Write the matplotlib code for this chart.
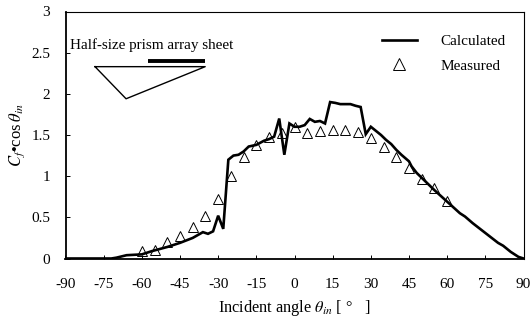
import matplotlib
matplotlib.use("Agg")
import matplotlib.pyplot as plt
from matplotlib.lines import Line2D

plt.rcParams['font.family'] = ['Liberation Serif', 'DejaVu Serif']
plt.rcParams['mathtext.fontset'] = 'stix'
plt.rcParams['axes.unicode_minus'] = False

calc_x = [-90, -72, -70, -66, -60, -56, -50, -46, -45, -40, -36, -34, -32, -30, -28, -26, -24, -22,
          -20, -18, -15, -12, -10, -8, -6, -4, -2, 0, 2, 4, 6, 8, 10, 12, 14, 16, 18, 20, 22, 24, 26,
          28, 30, 32, 34, 36, 38, 40, 42, 45, 46, 48, 50, 55, 60, 65, 67, 70, 75, 80, 82, 85, 88, 90]
calc_y = [0, 0, 0.01, 0.04, 0.05, 0.09, 0.14, 0.18, 0.19, 0.25, 0.32, 0.30, 0.33, 0.52, 0.36, 1.20, 1.25, 1.26,
          1.30, 1.36, 1.38, 1.43, 1.45, 1.48, 1.70, 1.26, 1.64, 1.60, 1.60, 1.62, 1.695, 1.66, 1.67, 1.64, 1.90, 1.89, 1.875, 1.875, 1.875, 1.855, 1.84,
          1.51, 1.60, 1.55, 1.50, 1.44, 1.39, 1.32, 1.26, 1.18, 1.12, 1.04, 0.98, 0.83, 0.69, 0.55, 0.51, 0.43, 0.31, 0.19, 0.155, 0.08, 0.02, 0]
meas_x = [-60, -55, -50, -45, -40, -35, -30, -25, -20, -15, -10, -5, 0, 5, 10, 15, 20, 25, 30, 35, 40, 45, 50, 55, 60]
meas_y = [0.095, 0.10, 0.205, 0.27, 0.38, 0.52, 0.72, 1.00, 1.23, 1.38, 1.47, 1.53, 1.60, 1.53, 1.55, 1.56, 1.56, 1.54, 1.46, 1.36, 1.23, 1.10, 0.97, 0.855, 0.70]
x_ticks = list(range(-90, 91, 15))
y_ticks = [0, 0.5, 1, 1.5, 2, 2.5, 3]
y_labels = ['0', '0.5', '1', '1.5', '2', '2.5', '3']
prism_x = [-78.4, -66.2, -35.1, -78.4]
prism_y = [2.33, 1.94, 2.33, 2.33]
sheet_x = [-57.5, -35.1]
sheet_y = [2.40, 2.40]

W, H = 532, 323
fig = plt.figure(figsize=(W/100, H/100), dpi=100)
L, R, T, B = 65.5, 523.5, 11.5, 258.5
ax = fig.add_axes([L/W, 1-B/H, (R-L)/W, (B-T)/H])

ax.plot(calc_x, calc_y, color='black', lw=1.9, solid_joinstyle='miter', zorder=3)
ax.plot(meas_x, meas_y, ls='none', marker='^', ms=6.8, mfc='none', mec='black', mew=0.7, zorder=4)
ax.plot(prism_x, prism_y, color='black', lw=1.0)
ax.plot(sheet_x, sheet_y, color='black', lw=2.8, solid_capstyle='butt')
ax.text(-88.2, 2.59, 'Half-size prism array sheet', fontsize=10.9, va='center', ha='left')

ax.set_xlim(-90, 90)
ax.set_ylim(0, 3)
ax.set_xticks(x_ticks)
ax.set_yticks(y_ticks, y_labels)
ax.tick_params(direction='in', length=3, width=0.7, labelsize=11)
ax.tick_params(axis='x', pad=14)
ax.tick_params(axis='y', pad=11)
for s in ['left', 'bottom']:
    ax.spines[s].set_linewidth(1.3)
for s in ['top', 'right']:
    ax.spines[s].set_linewidth(0.8)
ax.set_xlabel('Incident angle $\\theta_{in}$ [ \u00b0   ]', fontsize=11.7, labelpad=5)
ax.set_ylabel('$C_f$\u2022cos$\\,\\theta_{in}$', fontsize=12, labelpad=3)

handles = [Line2D([], [], color='black', lw=1.9),
           Line2D([], [], ls='none', marker='^', ms=9, mfc='none', mec='black', mew=0.7)]
ax.legend(handles, ['Calculated', 'Measured'], loc='upper left', bbox_to_anchor=(0.69, 0.906),
          frameon=False, fontsize=11, handlelength=2.3, labelspacing=0.7, handletextpad=1.55,
          borderaxespad=0, borderpad=0)
fig.savefig('out.png', dpi=100)
